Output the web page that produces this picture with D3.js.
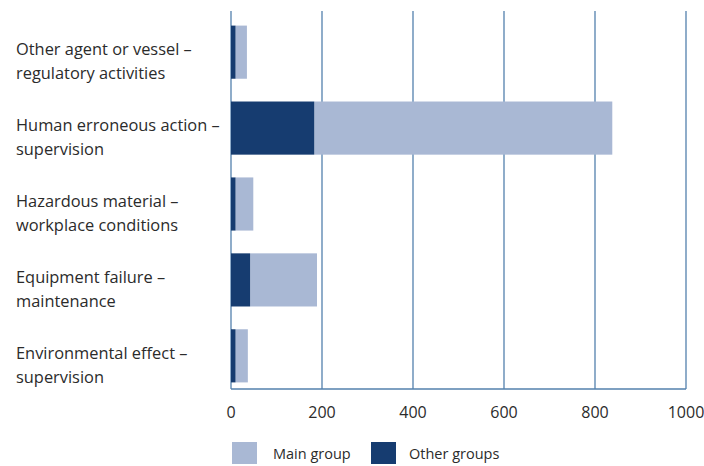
<!DOCTYPE html>
<html>
<head>
<meta charset="utf-8">
<script src="https://cdn.jsdelivr.net/npm/d3@7"></script>
<style>
  body { margin: 0; background: #fff; }
  text { font-family: "Source Sans Pro", "Open Sans", sans-serif; fill: #2b2b2b; }
</style>
</head>
<body>
<script>
const categories = [
  ["Other agent or vessel \u2013", "regulatory activities"],
  ["Human erroneous action \u2013", "supervision"],
  ["Hazardous material \u2013", "workplace conditions"],
  ["Equipment failure \u2013", "maintenance"],
  ["Environmental effect \u2013", "supervision"]
];
const otherGroups = [10, 183, 10, 42, 10];
const mainGroup = [25, 655, 39, 147, 27];
const xTicks = [0, 200, 400, 600, 800, 1000];

function main(){
    const width = 704, height = 466;
    const darkBlue = "#163c70", lightBlue = "#a9b8d4", gridCol = "#5380ad";

    const svg = d3.select("body").append("svg")
        .attr("width", width)
        .attr("height", height);

    const x = d3.scaleLinear().domain([0, 1000]).range([231, 686]);
    const y = d3.scaleBand()
        .domain(d3.range(categories.length))
        .range([18, 390])
        .paddingInner(0.3)
        .paddingOuter(0.1);

    // vertical gridlines
    svg.append("g").selectAll("line")
        .data(xTicks)
        .enter().append("line")
        .attr("x1", d => x(d)).attr("x2", d => x(d))
        .attr("y1", 11).attr("y2", 389)
        .attr("stroke", gridCol)
        .attr("stroke-width", 1.3);

    // bars: other groups first, main group stacked after
    const rows = categories.map((c, i) => ({i: i, other: otherGroups[i], main: mainGroup[i]}));

    svg.append("g").selectAll("rect")
        .data(rows)
        .enter().append("rect")
        .attr("x", d => x(d.other))
        .attr("y", d => y(d.i))
        .attr("width", d => x(d.other + d.main) - x(d.other))
        .attr("height", y.bandwidth())
        .attr("fill", lightBlue);

    svg.append("g").selectAll("rect")
        .data(rows)
        .enter().append("rect")
        .attr("x", x(0))
        .attr("y", d => y(d.i))
        .attr("width", d => x(d.other) - x(0))
        .attr("height", y.bandwidth())
        .attr("fill", darkBlue);

    // axis baseline
    svg.append("line")
        .attr("x1", x(0)).attr("x2", x(1000))
        .attr("y1", 389).attr("y2", 389)
        .attr("stroke", gridCol).attr("stroke-width", 1.3);

    // x tick labels
    svg.append("g").selectAll("text")
        .data(xTicks)
        .enter().append("text")
        .attr("x", d => x(d))
        .attr("y", 418)
        .attr("text-anchor", "middle")
        .style("font-size", "16px")
        .text(d => d);

    // category labels
    const lab = svg.append("g").selectAll("text")
        .data(rows)
        .enter().append("text")
        .attr("x", 16)
        .attr("y", d => y(d.i) + y.bandwidth() / 2 + 3)
        .style("font-size", "16.4px");
    lab.append("tspan").attr("x", 16).text(d => categories[d.i][0]);
    lab.append("tspan").attr("x", 16).attr("dy", 24).text(d => categories[d.i][1]);

    // legend
    const legend = [["Main group", lightBlue, 232, 273], ["Other groups", darkBlue, 371, 409]];
    const lg = svg.append("g").selectAll("g")
        .data(legend)
        .enter().append("g");
    lg.append("rect")
        .attr("x", d => d[2]).attr("y", 442)
        .attr("width", 25).attr("height", 22)
        .attr("fill", d => d[1]);
    lg.append("text")
        .attr("x", d => d[3]).attr("y", 459)
        .style("font-size", "14.5px")
        .text(d => d[0]);
}
main();
</script>
</body>
</html>
